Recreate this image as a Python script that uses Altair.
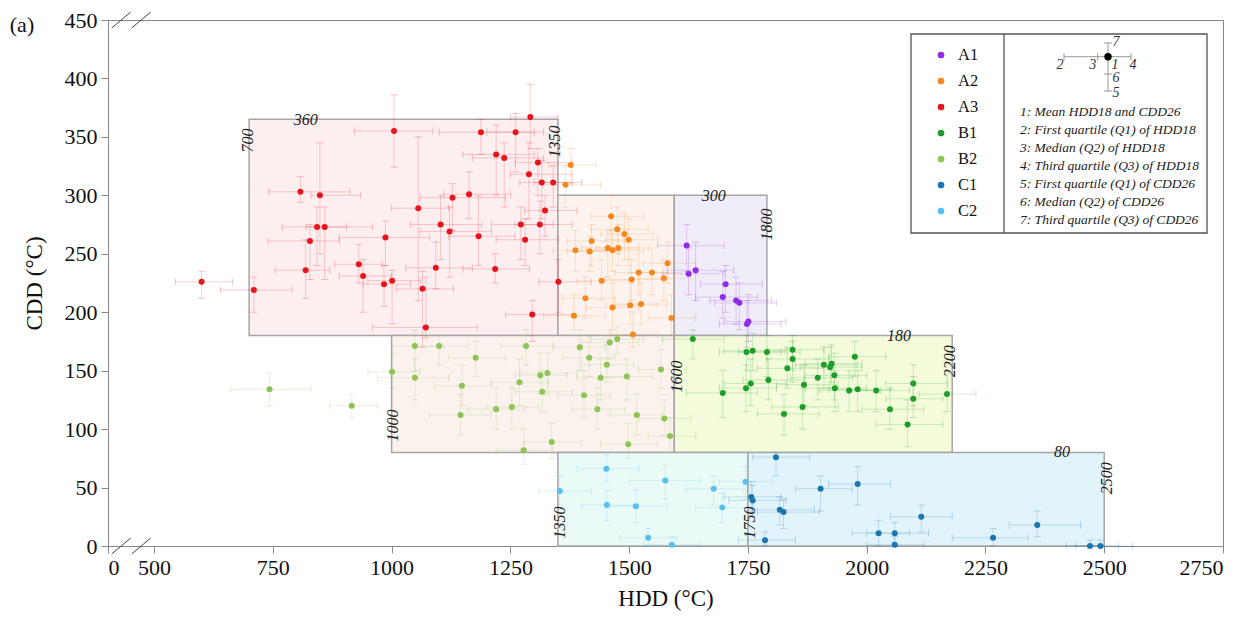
import altair as alt
import pandas as pd

# ---------------- data (HDD mean, CDD mean, HDD Q1, HDD Q3, CDD Q1, CDD Q3) ----------------
A1 = [
    (1621, 257, 1560, 1700, 235, 275), (1625, 233, 1570, 1700, 215, 255),
    (1640, 236, 1580, 1720, 210, 260), (1697, 213, 1640, 1770, 195, 235),
    (1703, 224, 1650, 1780, 200, 240), (1725, 210, 1670, 1800, 190, 230),
    (1732, 208, 1680, 1810, 185, 225), (1748, 190, 1690, 1820, 170, 210),
    (1751, 192, 1700, 1830, 175, 215),
]
A2 = [
    (1366, 309, 1320, 1440, 290, 325), (1377, 326, 1330, 1430, 310, 340),
    (1384, 197, 1320, 1450, 185, 215), (1387, 253, 1340, 1450, 235, 270),
    (1408, 212, 1360, 1470, 195, 230), (1417, 252, 1370, 1480, 235, 265),
    (1421, 261, 1370, 1490, 240, 275), (1442, 227, 1390, 1510, 210, 245),
    (1455, 255, 1400, 1520, 230, 270), (1462, 282, 1420, 1530, 255, 300),
    (1465, 253, 1410, 1530, 235, 270), (1465, 204, 1410, 1520, 185, 225),
    (1475, 271, 1420, 1540, 250, 290), (1477, 255, 1430, 1540, 240, 275),
    (1490, 267, 1440, 1550, 245, 285), (1499, 262, 1450, 1560, 240, 280),
    (1502, 206, 1450, 1560, 190, 225), (1505, 228, 1450, 1570, 210, 245),
    (1508, 181, 1460, 1560, 170, 200), (1520, 234, 1470, 1580, 215, 250),
    (1525, 207, 1470, 1580, 190, 225), (1548, 234, 1500, 1610, 215, 255),
    (1573, 229, 1520, 1630, 210, 245), (1581, 242, 1530, 1640, 225, 260),
    (1589, 195, 1540, 1640, 180, 215),
]
A3 = [
    (600, 226, 545, 665, 212, 235), (710, 219, 640, 790, 200, 230),
    (808, 303, 741, 912, 294, 316), (819, 236, 755, 870, 212, 262),
    (828, 261, 740, 890, 228, 275), (843, 273, 770, 960, 240, 290),
    (849, 300, 830, 935, 250, 345), (859, 273, 820, 905, 228, 290),
    (931, 241, 880, 980, 225, 258), (940, 231, 890, 1000, 200, 245),
    (984, 224, 940, 1040, 205, 240), (987, 264, 890, 1080, 240, 278),
    (1001, 227, 950, 1060, 190, 236), (1005, 355, 922, 1087, 324, 386),
    (1056, 289, 1000, 1120, 210, 350), (1065, 220, 1010, 1130, 170, 235),
    (1072, 187, 960, 1180, 178, 230), (1093, 238, 1030, 1170, 220, 260),
    (1103, 275, 1040, 1190, 245, 300), (1122, 269, 1060, 1210, 230, 290),
    (1128, 298, 1060, 1240, 270, 310), (1163, 301, 1110, 1250, 280, 320),
    (1183, 265, 1120, 1260, 240, 300), (1188, 354, 1100, 1300, 335, 365),
    (1218, 237, 1150, 1290, 225, 250), (1220, 335, 1150, 1300, 300, 360),
    (1237, 332, 1170, 1320, 290, 345), (1261, 354, 1200, 1320, 320, 370),
    (1272, 275, 1210, 1340, 245, 290), (1281, 262, 1220, 1350, 240, 280),
    (1289, 318, 1250, 1380, 280, 345), (1292, 367, 1250, 1350, 340, 395),
    (1296, 198, 1240, 1380, 175, 210), (1308, 328, 1260, 1380, 300, 340),
    (1312, 275, 1260, 1380, 250, 295), (1316, 311, 1270, 1380, 280, 330),
    (1323, 287, 1280, 1390, 265, 300), (1340, 311, 1300, 1400, 290, 325),
    (1351, 226, 1310, 1420, 200, 245),
]
B1 = [
    (1634, 177, 1570, 1700, 160, 185), (1697, 131, 1620, 1770, 110, 150),
    (1746, 135, 1690, 1810, 115, 155), (1747, 166, 1690, 1820, 150, 180),
    (1756, 139, 1700, 1830, 120, 160), (1760, 167, 1700, 1830, 150, 182),
    (1790, 166, 1730, 1860, 145, 180), (1793, 142, 1740, 1870, 125, 160),
    (1826, 113, 1770, 1900, 95, 130), (1833, 152, 1770, 1910, 135, 170),
    (1844, 168, 1790, 1910, 150, 180), (1844, 160, 1790, 1920, 140, 175),
    (1865, 119, 1800, 1940, 100, 135), (1868, 138, 1810, 1940, 120, 155),
    (1897, 144, 1840, 1970, 125, 160), (1910, 155, 1850, 1980, 135, 170),
    (1923, 153, 1860, 1990, 135, 170), (1926, 156, 1870, 1990, 140, 172),
    (1932, 146, 1870, 2000, 125, 165), (1933, 135, 1870, 2000, 115, 150),
    (1963, 133, 1900, 2030, 115, 150), (1975, 162, 1920, 2040, 145, 175),
    (1981, 134, 1920, 2050, 115, 150), (2020, 133, 1960, 2090, 115, 150),
    (2049, 117, 1990, 2120, 100, 135), (2086, 104, 2020, 2160, 85, 125),
    (2098, 139, 2040, 2170, 120, 155), (2098, 126, 2040, 2160, 110, 145),
    (2169, 130, 2110, 2230, 115, 150),
]
B2 = [
    (743, 134, 660, 830, 120, 148), (916, 120, 870, 970, 110, 130),
    (1001, 149, 950, 1060, 135, 165), (1049, 171, 1000, 1110, 150, 185),
    (1049, 144, 970, 1120, 125, 160), (1100, 171, 1050, 1160, 155, 180),
    (1145, 112, 1080, 1210, 95, 130), (1148, 137, 1090, 1210, 120, 155),
    (1177, 161, 1120, 1240, 145, 175), (1220, 117, 1160, 1280, 100, 135),
    (1253, 119, 1200, 1310, 100, 135), (1269, 140, 1210, 1330, 120, 160),
    (1278, 82, 1220, 1340, 70, 100), (1283, 171, 1230, 1340, 155, 185),
    (1313, 146, 1260, 1370, 130, 165), (1317, 132, 1260, 1380, 115, 150),
    (1328, 148, 1270, 1390, 130, 165), (1337, 89, 1280, 1400, 75, 105),
    (1396, 170, 1340, 1450, 150, 185), (1405, 129, 1350, 1460, 110, 150),
    (1416, 161, 1360, 1470, 145, 180), (1433, 117, 1380, 1490, 100, 135),
    (1440, 144, 1390, 1500, 125, 160), (1453, 155, 1400, 1510, 140, 172),
    (1459, 174, 1400, 1520, 160, 185), (1475, 177, 1420, 1530, 165, 188),
    (1495, 145, 1440, 1550, 125, 160), (1498, 87, 1440, 1560, 75, 105),
    (1516, 112, 1460, 1570, 95, 130), (1567, 151, 1520, 1620, 135, 168),
    (1574, 109, 1520, 1630, 95, 125), (1586, 94, 1540, 1640, 80, 110),
]
C1 = [
    (1757, 42, 1700, 1820, 30, 55), (1760, 39, 1710, 1830, 25, 52),
    (1786, 5, 1730, 1850, 0, 12), (1809, 76, 1760, 1880, 60, 80),
    (1817, 31, 1760, 1890, 18, 42), (1825, 29, 1770, 1900, 15, 40),
    (1903, 49, 1850, 1970, 30, 60), (1981, 53, 1920, 2050, 35, 68),
    (2025, 11, 1970, 2090, 0, 22), (2059, 11, 2000, 2130, 2, 20),
    (2059, 1, 2000, 2120, 0, 8), (2115, 25, 2050, 2180, 12, 35),
    (2266, 7, 2180, 2340, 0, 15), (2359, 18, 2300, 2450, 8, 30),
    (2470, 0, 2420, 2530, 0, 5), (2492, 0, 2440, 2560, 0, 5),
]
C2 = [
    (1354, 47, 1310, 1420, 35, 60), (1452, 66, 1390, 1520, 55, 78),
    (1453, 35, 1400, 1520, 22, 48), (1514, 34, 1460, 1580, 20, 48),
    (1540, 7, 1480, 1600, 0, 15), (1576, 56, 1500, 1650, 40, 70),
    (1590, 1, 1530, 1650, 0, 8), (1678, 49, 1620, 1740, 35, 60),
    (1696, 33, 1640, 1760, 20, 45), (1745, 55, 1690, 1800, 40, 68),
]

groups = ["A1", "A2", "A3", "B1", "B2", "C1", "C2"]
colors = ["#8e2ce8", "#f5891f", "#e8141c", "#1e9e28", "#8dc453", "#1b75b0", "#55c1f0"]

# zone rectangles
box_names = ["A3", "A2", "A1", "B2", "B1", "C2", "C1"]
box_x1 = [700, 1350, 1595, 1000, 1595, 1350, 1750]
box_x2 = [1350, 1595, 1790, 1595, 2180, 1750, 2500]
box_y1 = [180, 180, 180, 80, 80, 0, 0]
box_y2 = [365, 300, 300, 180, 180, 80, 80]
box_fill = ["#fdeef0", "#fdf3ee", "#f0ecf8", "#fbf2ee", "#f3fbdb", "#eafbf7", "#e1f4fb"]

# zone labels
lab_text = ["700", "1350", "1800", "1000", "1600", "2200", "1350", "1750", "2500",
            "360", "300", "180", "80"]
lab_x = [708, 1354, 1800, 1013, 1611, 2185, 1365, 1765, 2516, 819, 1678, 2068, 2411]
lab_y = [347, 346, 275, 103, 145, 158, 20, 20, 58, 364.5, 299.5, 179.7, 80.4]
lab_angle = [270, 270, 270, 270, 270, 270, 270, 270, 270, 0, 0, 0, 0]

legend_lines = [
    "1: Mean HDD18 and CDD26",
    "2: First quartile (Q1) of HDD18",
    "3: Median (Q2) of HDD18",
    "4: Third quartile (Q3) of HDD18",
    "5: First quartile (Q1) of CDD26",
    "6: Median (Q2) of CDD26",
    "7: Third quartile (Q3) of CDD26",
]

x_ticks = [403, 500, 750, 1000, 1250, 1500, 1750, 2000, 2250, 2500, 2750]
y_ticks = [0, 50, 100, 150, 200, 250, 300, 350, 400, 450]

# ---------------- build tables ----------------
rows = []
for g, pts in zip(groups, [A1, A2, A3, B1, B2, C1, C2]):
    for (h, c, h1, h3, c1, c3) in pts:
        rows.append(dict(group=g, hdd=h, cdd=c, hq1=h1, hq3=h3, cq1=c1, cq3=c3))
df = pd.DataFrame(rows)
boxes = pd.DataFrame(dict(name=box_names, x1=box_x1, x2=box_x2, y1=box_y1, y2=box_y2, fill=box_fill))
labels = pd.DataFrame(dict(text=lab_text, x=lab_x, y=lab_y, angle=lab_angle))

FONT = "Liberation Serif"
W, H = 1115, 526
xs = alt.Scale(domain=[403, 2750], nice=False, zero=False)
ys = alt.Scale(domain=[0, 450], nice=False)
cs = alt.Scale(domain=groups, range=colors)

axis_common = dict(domainColor="#888", tickColor="#888", tickSize=7, labelFont=FONT,
                   labelFontSize=22, labelColor="#111", titleFont=FONT, titleFontSize=23,
                   titleFontWeight="normal", titleColor="#111", grid=False, labelPadding=4)

def X(f, **k):
    return alt.X(f, type="quantitative", scale=xs, **k)

def Y(f, **k):
    return alt.Y(f, type="quantitative", scale=ys, **k)

base = alt.Chart(df)

rect_layer = alt.Chart(boxes).mark_rect(stroke="#a6a6a6", strokeWidth=1.5).encode(
    x=X("x1", axis=alt.Axis(values=x_ticks, format="d",
                            labelExpr="datum.value < 450 ? '0' : format(datum.value, 'd')",
                            title="HDD (°C)", titlePadding=9, **axis_common)),
    x2="x2",
    y=Y("y1", axis=alt.Axis(values=y_ticks, title="CDD (°C)", titlePadding=18, **axis_common)),
    y2="y2",
    fill=alt.Fill("fill:N", scale=None),
)

col_g = alt.Color("group:N", scale=cs, legend=None)
OP = 0.2
hbar = base.mark_rule(strokeWidth=1, opacity=OP).encode(x=X("hq1"), x2="hq3", y=Y("cdd"), color=col_g)
vbar = base.mark_rule(strokeWidth=1, opacity=OP).encode(x=X("hdd"), y=Y("cq1"), y2="cq3", color=col_g)
cap1 = base.mark_tick(orient="vertical", size=7, thickness=1, opacity=OP + 0.05).encode(x=X("hq1"), y=Y("cdd"), color=col_g)
cap2 = base.mark_tick(orient="vertical", size=7, thickness=1, opacity=OP + 0.05).encode(x=X("hq3"), y=Y("cdd"), color=col_g)
cap3 = base.mark_tick(orient="horizontal", size=7, thickness=1, opacity=OP + 0.05).encode(x=X("hdd"), y=Y("cq1"), color=col_g)
cap4 = base.mark_tick(orient="horizontal", size=7, thickness=1, opacity=OP + 0.05).encode(x=X("hdd"), y=Y("cq3"), color=col_g)

points = base.mark_circle(size=36, opacity=1).encode(x=X("hdd"), y=Y("cdd"), color=col_g)

zone_labels = alt.Chart(labels[labels.angle == 270]).mark_text(
    font=FONT, fontStyle="italic", fontSize=16, color="#222", baseline="alphabetic", angle=270
).encode(x=X("x"), y=Y("y"), text="text:N")
zone_labels_h = alt.Chart(labels[labels.angle == 0]).mark_text(
    font=FONT, fontStyle="italic", fontSize=16, color="#222", baseline="middle"
).encode(x=X("x"), y=Y("y"), text="text:N")

# ---------------- legend (frame, group key, error-bar key) ----------------
one = pd.DataFrame({"a": [0]})
leg_frame = alt.Chart(one).mark_rect(fillOpacity=0, stroke="#555", strokeWidth=1.3).encode(
    x=alt.value(803), x2=alt.value(1099), y=alt.value(14), y2=alt.value(213))
leg_div = alt.Chart(one).mark_rule(color="#555", strokeWidth=1.3).encode(
    x=alt.value(896), y=alt.value(14), y2=alt.value(213))

leg_items = pd.DataFrame(dict(group=groups, py=[35, 61, 87, 113, 139, 165, 191]))
leg_dots = alt.Chart(leg_items).mark_circle(size=45, opacity=1).encode(
    x=alt.value(833), y=alt.Y("py:Q", scale=None), color=col_g)
leg_text = alt.Chart(leg_items).mark_text(font=FONT, fontSize=16.5, color="#111", align="left",
                                          baseline="middle").encode(
    x=alt.value(850), y=alt.Y("py:Q", scale=None), text="group:N")

key_h = alt.Chart(one).mark_rule(color="#999", strokeWidth=1).encode(
    x=alt.value(956), x2=alt.value(1023), y=alt.value(36.7))
key_v = alt.Chart(one).mark_rule(color="#999", strokeWidth=1).encode(
    x=alt.value(1000), y=alt.value(23), y2=alt.value(71))
key_caps = pd.DataFrame(dict(
    x1=[956, 989.7, 1023, 996, 996, 996], x2=[956, 989.7, 1023, 1004, 1004, 1004],
    y1=[33, 33, 33, 23, 54, 71], y2=[40.5, 40.5, 40.5, 23, 54, 71]))
key_cap_layer = alt.Chart(key_caps).mark_rule(color="#999", strokeWidth=1).encode(
    x=alt.X("x1:Q", scale=None), x2="x2:Q", y=alt.Y("y1:Q", scale=None), y2="y2:Q")
key_dot = alt.Chart(one).mark_circle(size=55, color="black", opacity=1).encode(
    x=alt.value(1000), y=alt.value(36.7))
key_nums = pd.DataFrame(dict(t=["7", "2", "3", "1", "4", "6", "5"],
                             px=[1008, 952, 984.7, 1007, 1025, 1008, 1008],
                             py=[22, 45, 45, 45, 45, 58, 73]))
key_num_layer = alt.Chart(key_nums).mark_text(font=FONT, fontStyle="italic", fontSize=14,
                                              color="#333", align="center", baseline="middle").encode(
    x=alt.X("px:Q", scale=None), y=alt.Y("py:Q", scale=None), text="t:N")
desc = pd.DataFrame(dict(t=legend_lines, py=[92, 110, 128, 146, 164, 182, 200]))
desc_layer = alt.Chart(desc).mark_text(font=FONT, fontStyle="italic", fontSize=13.5, color="#222",
                                       align="left", baseline="middle").encode(
    x=alt.value(912), y=alt.Y("py:Q", scale=None), text="t:N")

# ---------------- axis break marks and panel tag ----------------
brk = pd.DataFrame(dict(x1=[3.7, 23.7, 3.7, 23.7], x2=[22.7, 42.7, 22.7, 42.7],
                        y1=[534, 534, 8, 8], y2=[518, 518, -8, -8]))
brk_layer = alt.Chart(brk).mark_rule(color="#444", strokeWidth=1).encode(
    x=alt.X("x1:Q", scale=None), x2="x2:Q", y=alt.Y("y1:Q", scale=None), y2="y2:Q")
tag = alt.Chart(one).mark_text(text="(a)", font=FONT, fontSize=22, color="#111",
                               align="center", baseline="middle").encode(
    x=alt.value(-86), y=alt.value(5))

chart = alt.layer(
    rect_layer, hbar, vbar, cap1, cap2, cap3, cap4, points, zone_labels, zone_labels_h,
    leg_frame, leg_div, leg_dots, leg_text, key_h, key_v, key_cap_layer, key_dot,
    key_num_layer, desc_layer, brk_layer, tag,
).properties(
    width=W, height=H,
    padding={"left": 100, "top": 12, "right": 25, "bottom": 65},
    autosize=alt.AutoSizeParams(type="none"),
).configure_view(stroke="#888", strokeWidth=1)

chart.save("out.html", embed_options={"renderer": "svg", "actions": False})
